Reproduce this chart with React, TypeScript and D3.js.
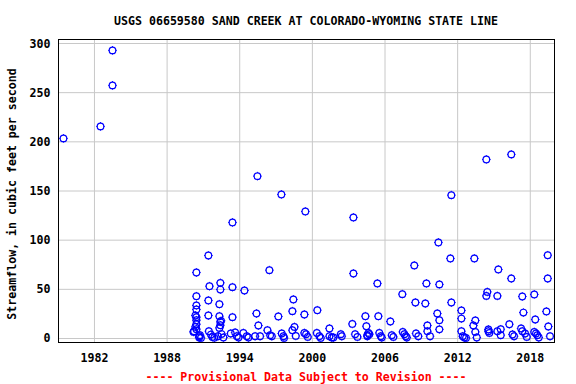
import React from "react";
import * as d3 from "d3";

const title = "USGS 06659580 SAND CREEK AT COLORADO-WYOMING STATE LINE";
const yAxisTitle = "Streamflow, in cubic feet per second";
const footer = "---- Provisional Data Subject to Revision ----";

const xTicks = [1982, 1988, 1994, 2000, 2006, 2012, 2018];
const yTicks = [0, 50, 100, 150, 200, 250, 300];

// decimal year of each measurement
const years = [
  1979.44, 1982.5, 1983.49, 1983.49,
  1990.18, 1990.23, 1990.34, 1990.34, 1990.42, 1990.42, 1990.42, 1990.42, 1990.42, 1990.42, 1990.42, 1990.42,
  1990.65, 1990.65, 1990.72, 1990.8,
  1991.41, 1991.41, 1991.41, 1991.45, 1991.5, 1991.62, 1991.74, 1991.9,
  1992.32, 1992.32, 1992.32, 1992.4, 1992.4, 1992.4, 1992.4, 1992.46, 1992.5, 1992.65, 1992.2,
  1993.26, 1993.4, 1993.4, 1993.4, 1993.62, 1993.76, 1993.9,
  1994.3, 1994.39, 1994.58, 1994.72,
  1995.27, 1995.38, 1995.46, 1995.54, 1995.68,
  1996.29, 1996.45, 1996.51, 1996.65,
  1997.19, 1997.44, 1997.47, 1997.61, 1997.66,
  1998.35, 1998.35, 1998.43, 1998.52, 1998.63,
  1999.34, 1999.34, 1999.42, 1999.48, 1999.62,
  2000.37, 2000.41, 2000.58, 2000.69,
  2001.41, 2001.41, 2001.6, 2001.74,
  2002.35, 2002.43,
  2003.3, 2003.39, 2003.39, 2003.53, 2003.72,
  2004.38, 2004.46, 2004.54, 2004.54, 2004.63, 2004.71,
  2005.37, 2005.45, 2005.53, 2005.65, 2005.73,
  2006.44, 2006.56, 2006.69,
  2007.43, 2007.47, 2007.6, 2007.71, 2007.8,
  2008.42, 2008.51, 2008.56, 2008.75,
  2009.33, 2009.42, 2009.5, 2009.5, 2009.72,
  2010.32, 2010.41, 2010.49, 2010.49, 2010.49,
  2011.4, 2011.48, 2011.48,
  2012.31, 2012.31, 2012.31, 2012.42, 2012.55, 2012.69,
  2013.3, 2013.38, 2013.46, 2013.46, 2013.58,
  2014.37, 2014.37, 2014.45, 2014.54, 2014.54, 2014.62,
  2015.28, 2015.28, 2015.36, 2015.56, 2015.56,
  2016.27, 2016.43, 2016.43, 2016.53, 2016.66,
  2017.24, 2017.34, 2017.34, 2017.43, 2017.57, 2017.71,
  2018.33, 2018.33, 2018.41, 2018.47, 2018.58, 2018.7,
  2019.33, 2019.44, 2019.44, 2019.49, 2019.63,
];

// streamflow, cubic feet per second
const flows = [
  203.5, 215.7, 257.4, 293.0,
  6.7, 7.4, 11.8, 23.4, 67.1, 43.0, 33.6, 29.5, 21.7, 18.6, 14.5, 9.5,
  2.3, 1.0, 3.4, 0.6,
  84.4, 38.7, 23.4, 7.4, 53.2, 4.0, 1.6, 0.8,
  34.9, 22.7, 10.8, 56.6, 49.8, 16.9, 13.5, 18.0, 4.5, 1.0, 2.3,
  5.1, 118.0, 52.2, 21.7, 6.1, 2.4, 1.0,
  5.7, 48.8, 2.3, 1.0,
  2.3, 25.4, 165.1, 13.2, 2.3,
  8.4, 69.5, 3.4, 2.3,
  22.4, 146.5, 5.1, 2.3, 0.6,
  27.8, 8.4, 39.7, 11.8, 2.6,
  24.4, 5.7, 129.2, 4.4, 1.6,
  5.7, 28.8, 2.3, 0.6,
  10.2, 2.3, 1.0, 1.0,
  4.4, 2.3,
  14.8, 123.1, 66.1, 4.4, 1.6,
  22.7, 12.5, 3.4, 2.3, 5.7, 4.4,
  56.0, 22.7, 5.7, 2.3, 1.0,
  17.3, 3.4, 1.6,
  45.1, 6.7, 4.4, 2.3, 1.0,
  74.3, 36.6, 5.1, 2.3,
  35.6, 56.0, 13.2, 7.4, 2.3,
  25.4, 97.7, 55.0, 18.6, 9.3,
  81.4, 145.8, 36.6,
  28.5, 20.3, 7.4, 2.3, 1.0, 0.6,
  13.2, 81.4, 18.3, 6.7, 1.0,
  182.1, 43.3, 47.4, 9.2, 7.4, 5.7,
  7.4, 43.3, 70.2, 9.4, 3.4,
  14.5, 187.2, 61.0, 4.1, 2.3,
  10.2, 42.7, 7.4, 26.4, 5.1, 1.6,
  44.8, 6.7, 19.3, 5.1, 3.4, 1.0,
  27.5, 84.7, 61.0, 12.2, 2.3,
];

const W = 576;
const H = 384;
const left = 58.5;
const right = 554.5;
const top = 39.5;
const bottom = 342.5;
const font = "'DejaVu Sans Mono', monospace";

export default function App() {
  const x = d3.scaleLinear().domain([1979.03, 2020.0]).range([left, right]);
  const y = d3.scaleLinear().domain([-4.07, 304.07]).range([bottom, top]);
  const r = 3.3;
  const tk = 1;
  const points = years.map((yr, i) => ({ yr, v: flows[i] }));

  return (
    <svg
      width={W}
      height={H}
      style={{ position: "absolute", left: 0, top: 0, background: "#fff" }}
    >
      <rect x={0} y={0} width={W} height={H} fill="#fff" />
      {/* grid */}
      {xTicks.map((t) => (
        <line key={"gx" + t} x1={x(t)} x2={x(t)} y1={top} y2={bottom} stroke="#c8c8c8" strokeWidth={1} />
      ))}
      {yTicks.map((t) => (
        <line key={"gy" + t} x1={left} x2={right} y1={y(t)} y2={y(t)} stroke="#c8c8c8" strokeWidth={1} />
      ))}
      {/* points */}
      <g stroke="#0000ff" strokeWidth={1.2} fill="none">
        {points.map((p, i) => {
          const cx = x(p.yr);
          const cy = y(p.v);
          return (
            <g key={i}>
              <circle cx={cx} cy={cy} r={r} />
              <line x1={cx} x2={cx} y1={cy - r} y2={cy - r - tk} strokeWidth={1} />
              <line x1={cx} x2={cx} y1={cy + r} y2={cy + r + tk} strokeWidth={1} />
              <line x1={cx - r} x2={cx - r - tk} y1={cy} y2={cy} strokeWidth={1} />
              <line x1={cx + r} x2={cx + r + tk} y1={cy} y2={cy} strokeWidth={1} />
            </g>
          );
        })}
      </g>
      {/* frame */}
      <rect x={left} y={top} width={right - left} height={bottom - top} fill="none" stroke="#000" strokeWidth={1} />
      {/* title */}
      <text x={306} y={25} textAnchor="middle" fontFamily={font} fontWeight="bold" fontSize={11.6} fill="#000">
        {title}
      </text>
      {/* x labels */}
      {xTicks.map((t) => (
        <text key={"xl" + t} x={x(t)} y={362} textAnchor="middle" fontFamily={font} fontWeight="bold" fontSize={11.6} fill="#000">
          {t}
        </text>
      ))}
      {/* y labels */}
      {yTicks.map((t) => (
        <text key={"yl" + t} x={50.5} y={y(t) + 4} textAnchor="end" fontFamily={font} fontWeight="bold" fontSize={11.6} fill="#000">
          {t}
        </text>
      ))}
      <text
        transform={`translate(16,194) rotate(-90)`}
        textAnchor="middle"
        fontFamily={font}
        fontWeight="bold"
        fontSize={11.6}
        fill="#000"
      >
        {yAxisTitle}
      </text>
      <text x={306} y={381} textAnchor="middle" fontFamily={font} fontWeight="bold" fontSize={11.6} fill="#ff0000">
        {footer}
      </text>
    </svg>
  );
}
